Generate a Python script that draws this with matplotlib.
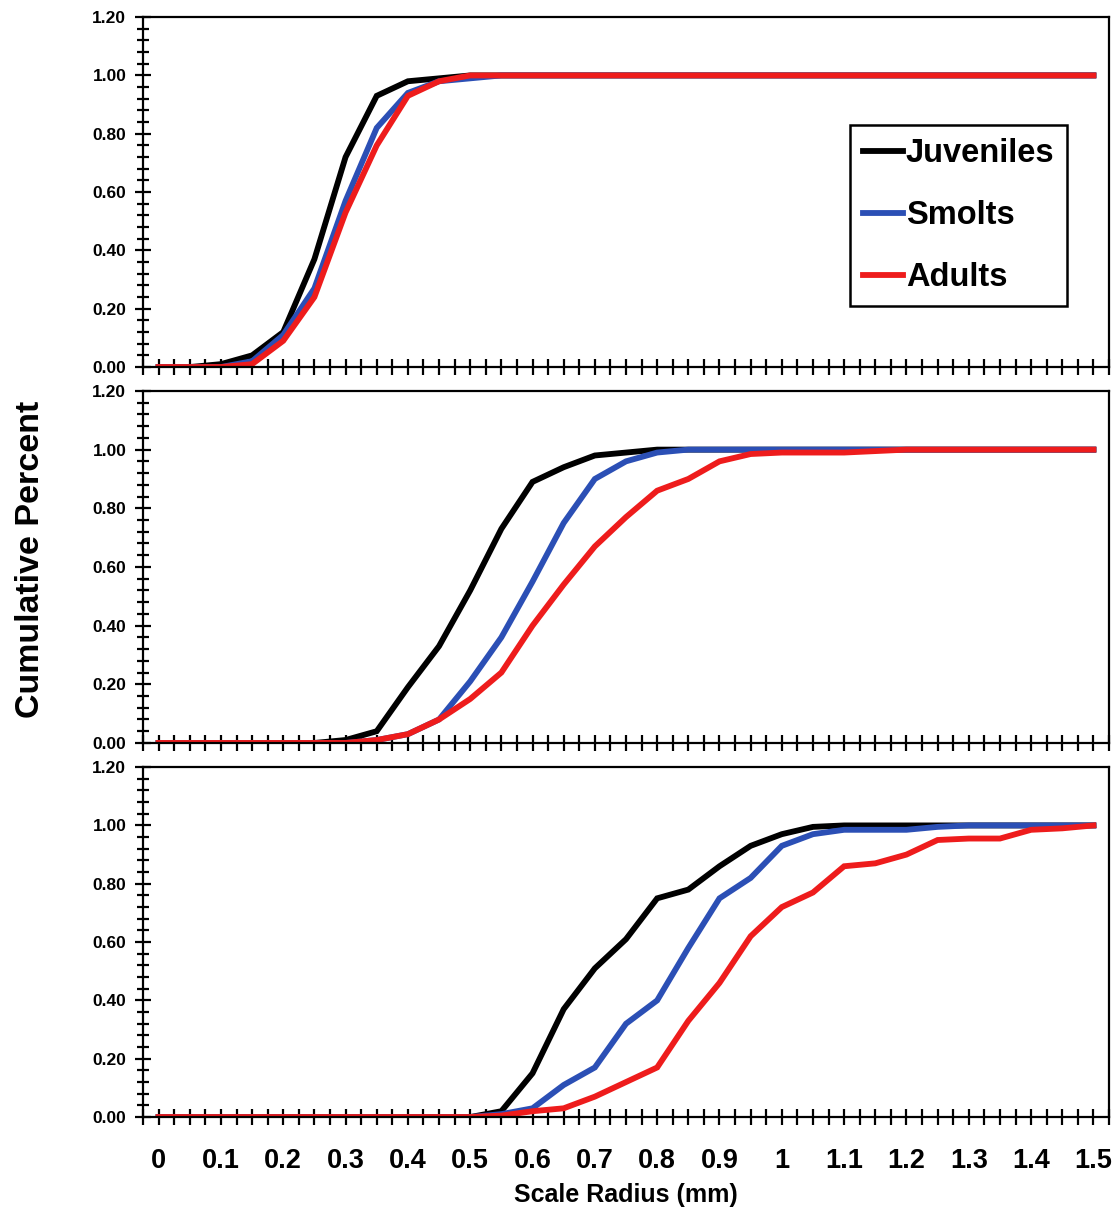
import numpy as np
import matplotlib
matplotlib.use("Agg")
import matplotlib.pyplot as plt
from matplotlib.ticker import MultipleLocator, FixedLocator

plt.rcParams["font.family"] = ["Liberation Sans", "DejaVu Sans"]
plt.rcParams["font.weight"] = "bold"

# Scale radius categories (mm)
radius = [0.00, 0.05, 0.10, 0.15, 0.20, 0.25, 0.30, 0.35, 0.40, 0.45,
          0.50, 0.55, 0.60, 0.65, 0.70, 0.75, 0.80, 0.85, 0.90, 0.95,
          1.00, 1.05, 1.10, 1.15, 1.20, 1.25, 1.30, 1.35, 1.40, 1.45, 1.50]

# Panel 1 (top)
juv1 = [0, 0, 0.01, 0.04, 0.12, 0.37, 0.72, 0.93, 0.98, 0.99, 1.0] + [1.0] * 20
smolt1 = [0, 0, 0, 0.02, 0.11, 0.27, 0.57, 0.82, 0.94, 0.98, 0.99, 1.0] + [1.0] * 19
adult1 = [0, 0, 0, 0.01, 0.09, 0.24, 0.53, 0.76, 0.93, 0.98, 1.0] + [1.0] * 20

# Panel 2 (middle)
juv2 = [0] * 6 + [0.01, 0.04, 0.19, 0.33, 0.52, 0.73, 0.89, 0.94, 0.98, 0.99, 1.0] + [1.0] * 14
smolt2 = [0] * 7 + [0.01, 0.03, 0.08, 0.21, 0.36, 0.55, 0.75, 0.90, 0.96, 0.99, 1.0] + [1.0] * 13
adult2 = [0] * 7 + [0.01, 0.03, 0.08, 0.15, 0.24, 0.40, 0.54, 0.67, 0.77, 0.86, 0.90,
                    0.96, 0.985, 0.99, 0.99, 0.99, 0.995] + [1.0] * 7

# Panel 3 (bottom)
juv3 = [0] * 11 + [0.02, 0.15, 0.37, 0.51, 0.61, 0.75, 0.78, 0.86, 0.93, 0.97, 0.995] + [1.0] * 9
smolt3 = [0] * 11 + [0.01, 0.03, 0.11, 0.17, 0.32, 0.40, 0.58, 0.75, 0.82, 0.93, 0.97,
                     0.985, 0.985, 0.985, 0.995] + [1.0] * 5
adult3 = [0] * 11 + [0.005, 0.02, 0.03, 0.07, 0.12, 0.17, 0.33, 0.46, 0.62, 0.72, 0.77,
                     0.86, 0.87, 0.90, 0.95, 0.955, 0.955, 0.985, 0.99, 1.0]

panels = [(juv1, smolt1, adult1), (juv2, smolt2, adult2), (juv3, smolt3, adult3)]
labels = ["Juveniles", "Smolts", "Adults"]
colors = ["#000000", "#2b4fb5", "#ee1c1c"]

xtick_vals = [0, 0.1, 0.2, 0.3, 0.4, 0.5, 0.6, 0.7, 0.8, 0.9, 1.0, 1.1, 1.2, 1.3, 1.4, 1.5]
xtick_labels = ["0", "0.1", "0.2", "0.3", "0.4", "0.5", "0.6", "0.7", "0.8", "0.9",
                "1", "1.1", "1.2", "1.3", "1.4", "1.5"]

fig = plt.figure(figsize=(11.13, 12.13), dpi=100)

left, width = 0.1285, 0.8679
boxes = [(0.6974, 0.2885), (0.3875, 0.2902), (0.0791, 0.2885)]

axes = []
for i, (bottom, height) in enumerate(boxes):
    ax = fig.add_axes([left, bottom, width, height])
    axes.append(ax)
    for series, lab, col in zip(panels[i], labels, colors):
        ax.plot(radius, series, color=col, lw=4.2, label=lab, solid_joinstyle="miter")

    ax.set_xlim(-0.025, 1.525)
    ax.set_ylim(0, 1.2)

    ax.yaxis.set_major_locator(FixedLocator([0, 0.2, 0.4, 0.6, 0.8, 1.0, 1.2]))
    ax.yaxis.set_minor_locator(MultipleLocator(0.04))
    ax.set_yticklabels(["0.00", "0.20", "0.40", "0.60", "0.80", "1.00", "1.20"])
    ax.tick_params(axis="y", which="major", direction="inout", length=12, width=1.6,
                   labelsize=12.5, pad=6)
    ax.tick_params(axis="y", which="minor", direction="inout", length=8, width=1.6)

    ax.xaxis.set_major_locator(FixedLocator(xtick_vals))
    ax.xaxis.set_minor_locator(MultipleLocator(0.025))
    ax.tick_params(axis="x", which="both", direction="inout", length=12, width=1.6)
    if i == 2:
        ax.set_xticklabels(xtick_labels)
        ax.tick_params(axis="x", which="major", labelsize=19.5, pad=16)
    else:
        ax.set_xticklabels([])

    for sp in ax.spines.values():
        sp.set_linewidth(1.6)
        sp.set_color("black")

leg = axes[0].legend(loc="upper right", bbox_to_anchor=(0.957, 0.691), borderaxespad=0,
                     handlelength=1.2, handletextpad=0.1, labelspacing=0.95,
                     borderpad=0.4, fancybox=False, framealpha=1, edgecolor="black",
                     prop={"weight": "bold", "size": 23.5})
leg.get_frame().set_linewidth(1.8)

fig.text(0.027, 0.539, "Cumulative Percent", rotation=90, ha="center", va="center",
         fontsize=24.5, fontweight="bold")
fig.text(0.562, 0.015, "Scale Radius (mm)", ha="center", va="center",
         fontsize=18, fontweight="bold")

fig.savefig("out.png", dpi=100)
